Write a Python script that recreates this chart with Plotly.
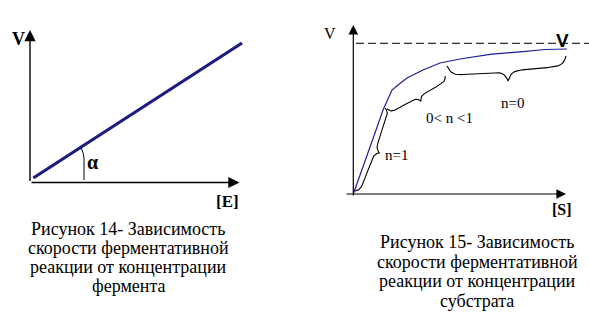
import numpy as np
import plotly.graph_objects as go

# ---------------- data ----------------
# Figure 14: V vs [E] (straight line)
E_vals = [0.165, 10.6]
V_E_vals = [0.225, 6.975]

# Figure 15: V vs [S] (saturation curve)
S_vals = [0.0, 0.585, 1.085, 1.485, 1.735, 1.935, 2.235, 2.685, 3.485, 4.335,
          5.335, 6.835, 8.485, 9.585, 10.685]
V_S_vals = [0.0, 1.7, 3.05, 4.2, 4.75, 5.2, 5.45, 5.8, 6.2, 6.55,
            6.75, 6.985, 7.115, 7.225, 7.25]
VMAX = 7.535

# brace regions on the substrate curve
brace_starts = [(0.085, 0.15), (1.685, 4.25), (4.685, 6.4)]
brace_ends = [(1.585, 4.3), (4.585, 5.9), (10.635, 6.9)]
brace_depths = [0.5, 0.5, 1.0]
brace_labels = ["n=1", "0< n <1", "n=0"]
brace_label_pos = [(2.16, 1.95), (4.785, 3.8), (7.96, 4.55)]

caption14 = ["Рисунок 14- Зависимость", "скорости ферментативной",
             "реакции от концентрации", "фермента"]
caption15 = ["Рисунок 15- Зависимость", "скорости ферментативной",
             "реакции от концентрации", "субстрата"]

SERIF = "Times New Roman, 'Liberation Serif', 'DejaVu Serif', serif"
SANS = "Arial, 'Liberation Sans', sans-serif"


def brace(p0, p1, d, n=121, k=0.06):
    p0 = np.array(p0, float)
    p1 = np.array(p1, float)
    v = p1 - p0
    L = np.hypot(*v)
    u = v / L
    perp = np.array([u[1], -u[0]])
    t = np.linspace(0, 1, n)
    s = np.where(t <= 0.5, t * 2, (1 - t) * 2)
    q = 0.5 * (1 - np.exp(-s / k)) + 0.5 * np.exp(-(1 - s) / k)
    pts = p0[None, :] + t[:, None] * v[None, :] + (d * q)[:, None] * perp[None, :]
    return pts[:, 0], pts[:, 1]


fig = go.Figure()

# ---- left panel ----
fig.add_trace(go.Scatter(x=E_vals, y=V_E_vals, mode="lines",
                         line=dict(color="#1c1c80", width=3.2),
                         xaxis="x", yaxis="y", cliponaxis=False, hoverinfo="skip"))
# angle marker
fig.add_trace(go.Scatter(x=[2.55, 2.62, 2.67, 2.7, 2.7], y=[1.77, 1.6, 1.42, 1.225, 0.125],
                         mode="lines", line=dict(color="black", width=1),
                         xaxis="x", yaxis="y", cliponaxis=False, hoverinfo="skip"))

# ---- right panel ----
fig.add_trace(go.Scatter(x=[0.135, 11.8], y=[VMAX, VMAX], mode="lines",
                         line=dict(color="black", width=1, dash="8px,4px"),
                         xaxis="x2", yaxis="y2", cliponaxis=False, hoverinfo="skip"))
fig.add_trace(go.Scatter(x=S_vals, y=V_S_vals, mode="lines",
                         line=dict(color="#1e1e9a", width=1.2),
                         xaxis="x2", yaxis="y2", cliponaxis=False, hoverinfo="skip"))
for p0, p1, d in zip(brace_starts, brace_ends, brace_depths):
    bx, by = brace(p0, p1, d)
    fig.add_trace(go.Scatter(x=bx, y=by, mode="lines",
                             line=dict(color="black", width=1.1),
                             xaxis="x2", yaxis="y2", cliponaxis=False, hoverinfo="skip"))

ann = []


def arrow(xref, yref, x0, y0, x1, y1, w=1.3):
    ann.append(dict(xref=xref, yref=yref, axref=xref, ayref=yref,
                    x=x1, y=y1, ax=x0, ay=y0, showarrow=True, text="",
                    arrowhead=2, arrowsize=1.6, arrowwidth=w, arrowcolor="black"))


# axes with arrows
arrow("x", "y", 0, 0, 0, 7.625, 1.4)
arrow("x", "y", 0, 0, 10.475, 0, 1.4)
arrow("x2", "y2", 0, -0.15, 0, 8.45, 1.2)
arrow("x2", "y2", -0.415, 0, 10.635, 0, 1.2)


def text(xref, yref, x, y, s, size, bold=False, family=SERIF):
    ann.append(dict(xref=xref, yref=yref, x=x, y=y, text=(f"<b>{s}</b>" if bold else s),
                    showarrow=False, xanchor="center", yanchor="middle",
                    font=dict(family=family, size=size, color="black")))


text("x", "y", -0.585, 7.175, "V", 18, True)
text("x", "y", 9.875, -0.925, "[E]", 17, True)
text("x", "y", 3.125, 1.05, "α", 20, True)

text("x2", "y2", -1.165, 8.05, "V", 16)
text("x2", "y2", 10.46, 7.7, "V", 19, True, SANS)
text("x2", "y2", 10.435, -0.75, "[S]", 16, True)
for lab, (lx, ly) in zip(brace_labels, brace_label_pos):
    text("x2", "y2", lx, ly, lab, 15)

for i, line in enumerate(caption14):
    text("x", "y", 4.9, -2.3 - i * 0.965, line, 18)
for i, line in enumerate(caption15):
    text("x2", "y2", 6.185, -2.4 - i * 0.975, line, 18)

hidden = dict(visible=False, showgrid=False, zeroline=False)
fig.update_layout(
    width=589, height=314, margin=dict(l=0, r=0, t=0, b=0),
    paper_bgcolor="white", plot_bgcolor="white", showlegend=False,
    font=dict(family=SERIF),
    xaxis=dict(domain=[0, 0.5], range=[-1.5, 13.225], anchor="y", **hidden),
    yaxis=dict(domain=[0, 1], range=[-6.575, 9.125], anchor="x", **hidden),
    xaxis2=dict(domain=[0.5, 1], range=[-2.94, 11.785], anchor="y2", **hidden),
    yaxis2=dict(domain=[0, 1], range=[-6.0, 9.7], anchor="x2", **hidden),
    annotations=ann,
)

fig.write_html("out.html")
